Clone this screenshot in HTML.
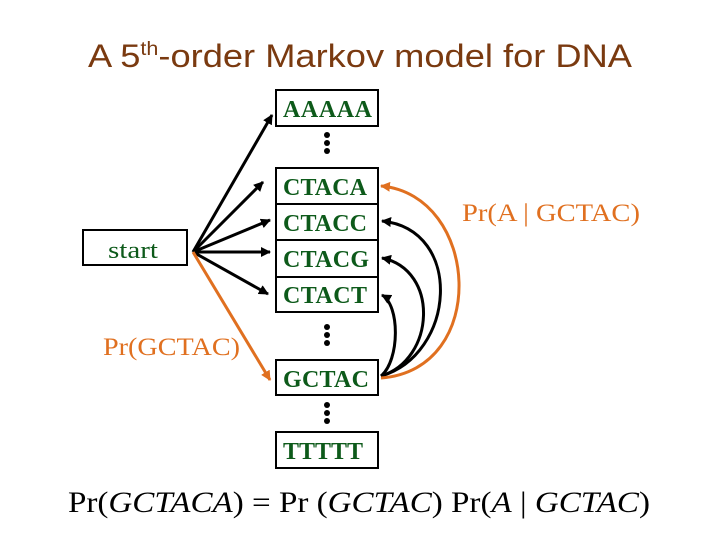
<!DOCTYPE html>
<html><head><style>body{margin:0;background:#fff}svg{display:block}</style></head><body>
<svg width="720" height="540" viewBox="0 0 720 540" xmlns="http://www.w3.org/2000/svg">
<defs>
<marker id="ab" markerWidth="10" markerHeight="10" refX="9" refY="5" orient="auto" markerUnits="userSpaceOnUse"><path d="M0,0 L10,5 L0,10 z" fill="#000"/></marker>
<marker id="ao" markerWidth="10" markerHeight="10" refX="9" refY="5" orient="auto" markerUnits="userSpaceOnUse"><path d="M0,0 L10,5 L0,10 z" fill="#e07020"/></marker>
</defs>
<text x="88" y="67" font-family="Liberation Sans, sans-serif" font-size="32" fill="#7a3a10" textLength="544" lengthAdjust="spacingAndGlyphs">A 5<tspan font-size="19" dy="-12">th</tspan><tspan dy="12">-order Markov model for DNA</tspan></text>
<g fill="none" stroke="#000" stroke-width="2">
<rect x="276" y="90" width="102" height="36"/>
<rect x="276" y="168" width="102" height="144"/>
<line x1="276" y1="204" x2="378" y2="204"/>
<line x1="276" y1="240" x2="378" y2="240"/>
<line x1="276" y1="277" x2="378" y2="277"/>
<rect x="276" y="360" width="102" height="35"/>
<rect x="276" y="432" width="102" height="36"/>
<rect x="83" y="230" width="104" height="35"/>
</g>
<g fill="#000">
<circle cx="327" cy="135" r="3"/><circle cx="327" cy="143" r="3"/><circle cx="327" cy="151" r="3"/>
<circle cx="327" cy="327" r="3"/><circle cx="327" cy="335" r="3"/><circle cx="327" cy="343" r="3"/>
<circle cx="327" cy="405" r="3"/><circle cx="327" cy="413" r="3"/><circle cx="327" cy="421" r="3"/>
</g>
<g font-family="Liberation Serif, serif" font-size="24" font-weight="bold" fill="#0d5a1a" lengthAdjust="spacingAndGlyphs">
<text x="283" y="117" textLength="89">AAAAA</text>
<text x="283" y="195" textLength="84">CTACA</text>
<text x="283" y="231" textLength="84">CTACC</text>
<text x="283" y="267" textLength="86">CTACG</text>
<text x="283" y="303" textLength="84">CTACT</text>
<text x="283" y="387" textLength="86">GCTAC</text>
<text x="283" y="459" textLength="80">TTTTT</text>
</g>
<text x="108" y="258" font-family="Liberation Serif, serif" font-size="24" fill="#0d5a1a" textLength="50" lengthAdjust="spacingAndGlyphs">start</text>
<g stroke="#000" stroke-width="3" fill="none" marker-end="url(#ab)">
<line x1="193" y1="252" x2="272" y2="115"/>
<line x1="193" y1="252" x2="263" y2="182"/>
<line x1="193" y1="252" x2="270" y2="220"/>
<line x1="193" y1="252" x2="270" y2="252"/>
<line x1="193" y1="252" x2="268" y2="294"/>
<path d="M381,376 C400,360 400,305 382,295"/>
<path d="M381,376 C435,360 440,270 382,258"/>
<path d="M381,376 C455,355 465,230 382,221"/>
</g>
<g stroke="#e07020" stroke-width="3" fill="none" marker-end="url(#ao)">
<line x1="193" y1="252" x2="270" y2="380"/>
<path d="M381,378 C490,370 480,195 381,186"/>
</g>
<text x="462" y="221" font-family="Liberation Serif, serif" font-size="25" fill="#e07020" textLength="178" lengthAdjust="spacingAndGlyphs">Pr(A | GCTAC)</text>
<text x="103" y="355" font-family="Liberation Serif, serif" font-size="25" fill="#e07020" textLength="137" lengthAdjust="spacingAndGlyphs">Pr(GCTAC)</text>
<text x="68" y="512" font-family="Liberation Serif, serif" font-size="30" fill="#000" textLength="582" lengthAdjust="spacingAndGlyphs">Pr(<tspan font-style="italic">GCTACA</tspan>) = Pr (<tspan font-style="italic">GCTAC</tspan>) Pr(<tspan font-style="italic">A</tspan> | <tspan font-style="italic">GCTAC</tspan>)</text>
</svg>
</body></html>
